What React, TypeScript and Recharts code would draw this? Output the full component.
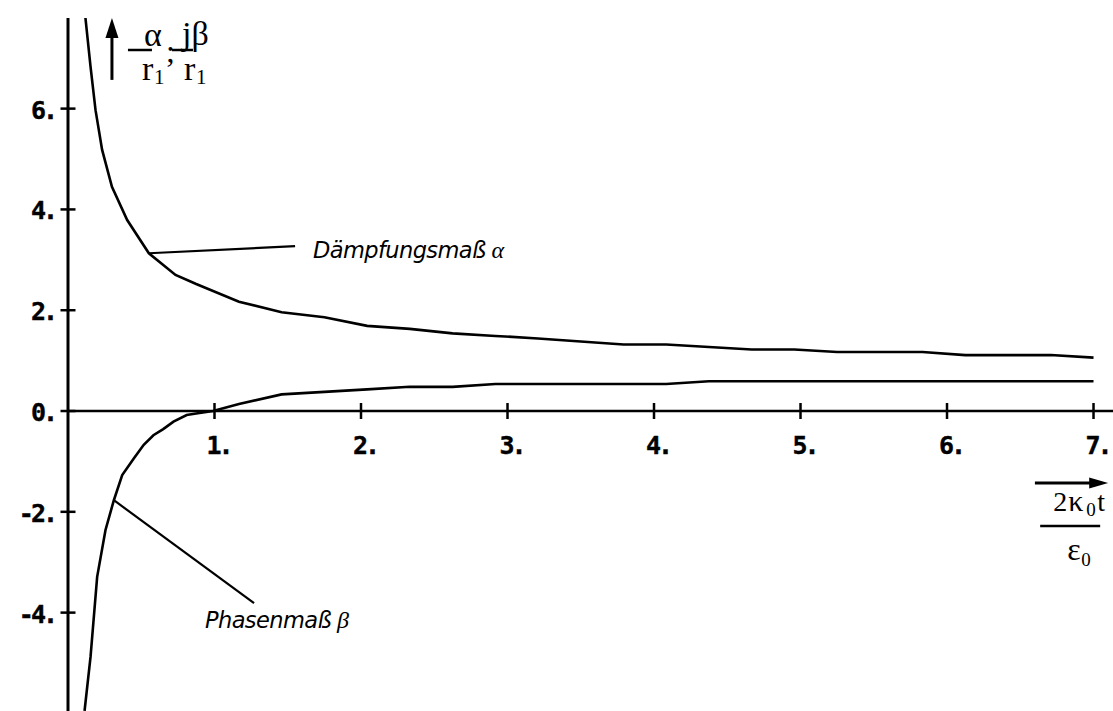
import { LineChart, Line, XAxis, YAxis, ReferenceLine } from "recharts";

// tick values
const xTicks = [1, 2, 3, 4, 5, 6, 7];
const yTicks = [-4, -2, 0, 2, 4, 6];

// Dämpfungsmaß alpha / r1
const alphaX = [0.119, 0.154, 0.188, 0.233, 0.3, 0.404, 0.552, 0.734, 0.875, 1.167, 1.458, 1.75, 2.042, 2.333, 2.625, 2.917, 3.208, 3.5, 3.792, 4.083, 4.375, 4.667, 4.958, 5.25, 5.542, 5.833, 6.125, 6.417, 6.708, 7.0];
const alphaY = [7.8, 6.83, 5.97, 5.18, 4.45, 3.79, 3.13, 2.7, 2.52, 2.17, 1.96, 1.86, 1.69, 1.63, 1.54, 1.49, 1.44, 1.38, 1.32, 1.32, 1.27, 1.22, 1.22, 1.17, 1.17, 1.17, 1.11, 1.11, 1.11, 1.06];

// Phasenmaß beta / r1
const betaX = [0.113, 0.154, 0.199, 0.256, 0.313, 0.37, 0.449, 0.517, 0.583, 0.65, 0.72, 0.81, 0.875, 0.99, 1.167, 1.458, 1.75, 2.042, 2.333, 2.625, 2.917, 3.208, 3.5, 3.792, 4.083, 4.375, 4.667, 4.958, 5.25, 5.542, 5.833, 6.125, 6.417, 6.708, 7.0];
const betaY = [-5.95, -4.875, -3.29, -2.36, -1.77, -1.27, -0.94, -0.67, -0.48, -0.36, -0.21, -0.08, -0.05, 0.0, 0.14, 0.33, 0.38, 0.43, 0.48, 0.48, 0.535, 0.535, 0.535, 0.535, 0.535, 0.59, 0.59, 0.59, 0.59, 0.59, 0.59, 0.59, 0.59, 0.59, 0.59];

const alphaData = alphaX.map((x, i) => ({ x, v: alphaY[i] }));
const betaData = betaX.map((x, i) => ({ x, v: betaY[i] }));

const MONO = "DejaVu Sans Mono";
const SERIF = "Liberation Serif";
const SANS = "DejaVu Sans";

const TickLabel = ({ x, y, anchor, children }: any) => (
  <text
    x={x}
    y={y}
    textAnchor={anchor}
    fontFamily={MONO}
    fontWeight="bold"
    fontSize={25}
    letterSpacing={-3}
    fill="#000"
    stroke="#000"
    strokeWidth={0.4}
  >
    {children}
  </text>
);

const YTick = ({ x1, y1, v }: any) => (
  <g>
    <line x1={x1 - 7.5} x2={x1 + 7.5} y1={y1} y2={y1} stroke="#000" strokeWidth={2.5} />
    <TickLabel x={x1 - 13} y={y1 + 10} anchor="end">{`${v}.`}</TickLabel>
  </g>
);

const XTick = ({ x1, y1, v }: any) => (
  <g>
    <line x1={x1} x2={x1} y1={y1 - 8} y2={y1 + 8} stroke="#000" strokeWidth={2.5} />
    <TickLabel x={x1 + 4} y={y1 + 43} anchor="middle">{`${v}.`}</TickLabel>
  </g>
);

const Note = ({ x1, y1, x2, y2, label, greek, dx, dy }: any) => (
  <g>
    <line x1={x1} y1={y1} x2={x2} y2={y2} stroke="#000" strokeWidth={2.2} />
    <text x={x2 + dx} y={y2 + dy} fontFamily={SANS} fontStyle="italic" fontSize={22.5} letterSpacing={-0.6} fill="#000">
      {label}
      <tspan fontFamily={SERIF} fontStyle="italic" fontSize={24} dx={6}>{greek}</tspan>
    </text>
  </g>
);

const YArrow = ({ x1, y1, x2, y2 }: any) => (
  <g fill="#000" fontFamily={SERIF}>
    <line x1={x1} y1={y1} x2={x2} y2={y2 + 16} stroke="#000" strokeWidth={3} />
    <polygon points={`${x2 - 6.5},${y2 + 20} ${x2},${y2} ${x2 + 6.5},${y2 + 20}`} />
    <line x1={x2 + 16} x2={x2 + 40} y1={y2 + 32} y2={y2 + 32} stroke="#000" strokeWidth={2.5} />
    <text x={x2 + 41} y={y2 + 28} textAnchor="middle" fontSize={34}>α</text>
    <text x={x2 + 30} y={y2 + 62} fontSize={34}>r</text>
    <text x={x2 + 42} y={y2 + 66} fontSize={21}>1</text>
    <text x={x2 + 54} y={y2 + 44} fontSize={32}>;</text>
    <line x1={x2 + 60} x2={x2 + 81} y1={y2 + 32} y2={y2 + 32} stroke="#000" strokeWidth={2.5} />
    <text x={x2 + 70} y={y2 + 27} fontSize={34}>jβ</text>
    <text x={x2 + 72} y={y2 + 62} fontSize={34}>r</text>
    <text x={x2 + 84} y={y2 + 66} fontSize={21}>1</text>
  </g>
);

const XArrow = ({ x1, y1, x2, y2 }: any) => (
  <g fill="#000" fontFamily={SERIF}>
    <line x1={x1} y1={y1} x2={x2 - 14} y2={y2} stroke="#000" strokeWidth={3} />
    <polygon points={`${x2 - 19},${y2 - 5.5} ${x2},${y2} ${x2 - 19},${y2 + 5.5}`} />
    <text x={x2 - 55} y={y2 + 28} fontSize={28}>2</text>
    <text x={x2 - 40} y={y2 + 28} fontSize={30}>κ</text>
    <text x={x2 - 22} y={y2 + 33} fontSize={19}>0</text>
    <text x={x2 - 11} y={y2 + 28} fontSize={28}>t</text>
    <line x1={x2 - 68} x2={x2 - 8} y1={y2 + 43} y2={y2 + 43} stroke="#000" strokeWidth={2.5} />
    <text x={x2 - 41} y={y2 + 77} fontSize={32}>ε</text>
    <text x={x2 - 27} y={y2 + 83} fontSize={19}>0</text>
  </g>
);

export default function App() {
  return (
    <div style={{ width: 1113, height: 711, background: "#fff" }}>
      <style>{`body{margin:0}`}</style>
      <LineChart width={1113} height={711} margin={{ top: 18, right: 0, bottom: 0, left: 68 }}>
        <XAxis type="number" dataKey="x" domain={[0, 7.133]} allowDataOverflow hide />
        <YAxis type="number" domain={[-5.952, 7.798]} allowDataOverflow hide />
        <ReferenceLine x={0} stroke="#000" strokeWidth={3} />
        <ReferenceLine y={0} stroke="#000" strokeWidth={2.6} />
        {xTicks.map((v) => (
          <ReferenceLine
            key={`x${v}`}
            segment={[{ x: v, y: 0 }, { x: v, y: 0 }]}
            ifOverflow="visible"
            shape={(p: any) => <XTick {...p} v={v} />}
          />
        ))}
        {yTicks.map((v) => (
          <ReferenceLine
            key={`y${v}`}
            segment={[{ x: 0, y: v }, { x: 0, y: v }]}
            ifOverflow="visible"
            shape={(p: any) => <YTick {...p} v={v} />}
          />
        ))}
        <Line data={alphaData} dataKey="v" type="linear" stroke="#000" strokeWidth={2.6} dot={false} isAnimationActive={false} />
        <Line data={betaData} dataKey="v" type="linear" stroke="#000" strokeWidth={2.6} dot={false} isAnimationActive={false} />
        <ReferenceLine
          segment={[{ x: 0.552, y: 3.13 }, { x: 1.55, y: 3.27 }]}
          ifOverflow="visible"
          shape={(p: any) => <Note {...p} label="Dämpfungsmaß" greek="α" dx={18} dy={12} />}
        />
        <ReferenceLine
          segment={[{ x: 0.313, y: -1.77 }, { x: 1.27, y: -3.81 }]}
          ifOverflow="visible"
          shape={(p: any) => <Note {...p} label="Phasenmaß" greek="β" dx={-49} dy={25} />}
        />
        <ReferenceLine
          segment={[{ x: 0.3, y: 6.57 }, { x: 0.3, y: 7.798 }]}
          ifOverflow="visible"
          shape={(p: any) => <YArrow {...p} />}
        />
        <ReferenceLine
          segment={[{ x: 6.6, y: -1.43 }, { x: 7.1, y: -1.43 }]}
          ifOverflow="visible"
          shape={(p: any) => <XArrow {...p} />}
        />
      </LineChart>
    </div>
  );
}
